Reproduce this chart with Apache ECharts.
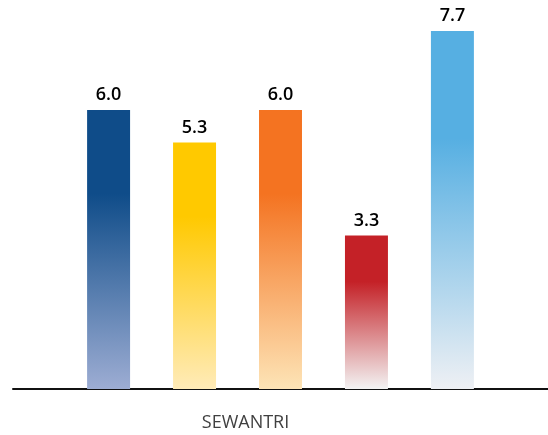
<!DOCTYPE html>
<html>
<head>
<meta charset="utf-8">
<script src="https://cdn.jsdelivr.net/npm/echarts@6/dist/echarts.min.js"></script>
<style>html,body{margin:0;padding:0;background:#fff;}#c{width:548px;height:435px;}</style>
</head>
<body>
<div id="c"></div>
<script>
var categories = ['SEWANTRI'];
var seriesNames = ['Series 1', 'Series 2', 'Series 3', 'Series 4', 'Series 5'];
var values = [6.0, 5.3, 6.0, 3.3, 7.7];
var topColors = ['#0f4c89', '#ffc900', '#f47321', '#c42127', '#56afe2'];
var bottomColors = ['#9dadd3', '#ffebb8', '#fde4b6', '#f3f3f3', '#eef0f4'];

var chart = echarts.init(document.getElementById('c'));
var series = seriesNames.map(function (name, i) {
  return {
    name: name,
    type: 'bar',
    data: [values[i]],
    barGap: '100%',
    barCategoryGap: '27.7%',
    itemStyle: {
      color: new echarts.graphic.LinearGradient(0, 0, 0, 1, [
        { offset: 0, color: topColors[i] },
        { offset: 0.3, color: topColors[i] },
        { offset: 1, color: bottomColors[i] }
      ])
    },
    label: {
      show: true,
      position: 'top',
      distance: 6,
      color: '#000',
      fontFamily: 'Open Sans',
      fontWeight: 600,
      fontSize: 18,
      formatter: function (p) { return p.value.toFixed(1); }
    }
  };
});

chart.setOption({
  animation: false,
  grid: { left: 13, right: 0, top: 17, bottom: 46, containLabel: false },
  xAxis: {
    type: 'category',
    data: categories,
    axisLine: { lineStyle: { color: '#111', width: 2 } },
    axisTick: { show: false },
    axisLabel: {
      color: '#404040',
      fontFamily: 'Open Sans',
      fontSize: 18,
      margin: 25,
      padding: [0, 70, 0, 0]
    }
  },
  yAxis: {
    type: 'value',
    min: 0,
    max: 8,
    show: false,
    splitLine: { show: false }
  },
  series: series
});
</script>
</body>
</html>
